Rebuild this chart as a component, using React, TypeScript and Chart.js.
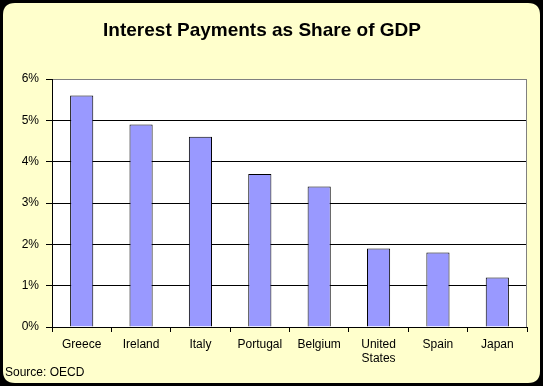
import React, { useEffect, useRef } from "react";
import { Chart, registerables } from "chart.js";

Chart.register(...registerables);

const categories: (string | string[])[] = [
  "Greece",
  "Ireland",
  "Italy",
  "Portugal",
  "Belgium",
  ["United", "States"],
  "Spain",
  "Japan",
];
const interestShare = [5.6, 4.9, 4.6, 3.7, 3.4, 1.9, 1.8, 1.2];
const yTicks = [0, 1, 2, 3, 4, 5, 6];
const titleText = "Interest Payments as Share of GDP";
const sourceText = "Source: OECD";

const FONT = "'Liberation Sans', Arial, sans-serif";

const decorPlugin = {
  id: "decor",
  beforeDraw(chart: any) {
    const { ctx, width, height } = chart;
    ctx.save();
    ctx.fillStyle = "#000000";
    ctx.fillRect(0, 0, width, height);
    const x = 3, y = 3, w = width - 6, h = height - 6, r = 12;
    ctx.beginPath();
    ctx.moveTo(x + r, y);
    ctx.lineTo(x + w - r, y);
    ctx.quadraticCurveTo(x + w, y, x + w, y + r);
    ctx.lineTo(x + w, y + h - r);
    ctx.quadraticCurveTo(x + w, y + h, x + w - r, y + h);
    ctx.lineTo(x + r, y + h);
    ctx.quadraticCurveTo(x, y + h, x, y + h - r);
    ctx.lineTo(x, y + r);
    ctx.quadraticCurveTo(x, y, x + r, y);
    ctx.closePath();
    ctx.fillStyle = "#FFFFCC";
    ctx.fill();
    const a = chart.chartArea;
    ctx.fillStyle = "#FFFFFF";
    ctx.fillRect(a.left, a.top, a.right - a.left, a.bottom - a.top);
    ctx.fillStyle = "#000000";
    ctx.font = `bold 19px ${FONT}`;
    ctx.textAlign = "center";
    ctx.textBaseline = "middle";
    ctx.fillText(titleText, 262, 31);
    ctx.font = `12px ${FONT}`;
    ctx.textAlign = "left";
    ctx.fillText(sourceText, 5, 373);
    ctx.restore();
  },
  afterDatasetsDraw(chart: any) {
    const { ctx } = chart;
    const a = chart.chartArea;
    ctx.save();
    ctx.strokeStyle = "#808080";
    ctx.lineWidth = 1;
    ctx.beginPath();
    const rx = Math.round(a.right) - 0.5;
    ctx.moveTo(rx, Math.round(a.top) + 0.5);
    ctx.lineTo(rx, Math.round(a.bottom));
    ctx.stroke();
    ctx.restore();
  },
};

export default function App() {
  const ref = useRef<HTMLCanvasElement>(null);
  useEffect(() => {
    if (!ref.current) return;
    const chart = new Chart(ref.current, {
      type: "bar",
      data: {
        labels: categories as any,
        datasets: [
          {
            data: interestShare,
            backgroundColor: "#9999FF",
            borderColor: "#000000",
            borderWidth: 1,
            barPercentage: 0.39,
            categoryPercentage: 1,
          },
        ],
      },
      options: {
        responsive: false,
        animation: false,
        devicePixelRatio: 1,
        layout: { padding: { top: 79, right: 16, left: 0, bottom: 0 } },
        plugins: {
          legend: { display: false },
          title: { display: false },
          tooltip: { enabled: false },
        },
        scales: {
          x: {
            offset: true,
            afterFit: (s: any) => {
              s.height = 59;
            },
            grid: {
              offset: true,
              drawOnChartArea: false,
              drawTicks: true,
              tickLength: 5,
              color: "#000000",
              tickColor: "#000000",
            },
            border: { display: true, color: "#000000", width: 1 },
            ticks: {
              color: "#000000",
              font: { family: FONT, size: 12 },
              padding: 5,
              maxRotation: 0,
              autoSkip: false,
            },
          },
          y: {
            min: 0,
            max: 6,
            afterFit: (s: any) => {
              s.width = 52;
            },
            afterBuildTicks: (s: any) => {
              s.ticks = yTicks.map((v) => ({ value: v }));
            },
            grid: {
              color: (c: any) => (c.tick && c.tick.value === 6 ? "#808080" : "#000000"),
              tickColor: "#000000",
              drawTicks: true,
              tickLength: 6,
              lineWidth: 1,
            },
            border: { display: true, color: "#000000", width: 1 },
            ticks: {
              color: "#000000",
              font: { family: FONT, size: 12 },
              padding: 7,
              callback: (v: any) => `${v}%`,
            },
          },
        },
      },
      plugins: [decorPlugin],
    });
    return () => chart.destroy();
  }, []);
  return (
    <div style={{ position: "fixed", left: 0, top: 0, width: 543, height: 386 }}>
      <canvas ref={ref} width={543} height={386} style={{ display: "block" }} />
    </div>
  );
}
